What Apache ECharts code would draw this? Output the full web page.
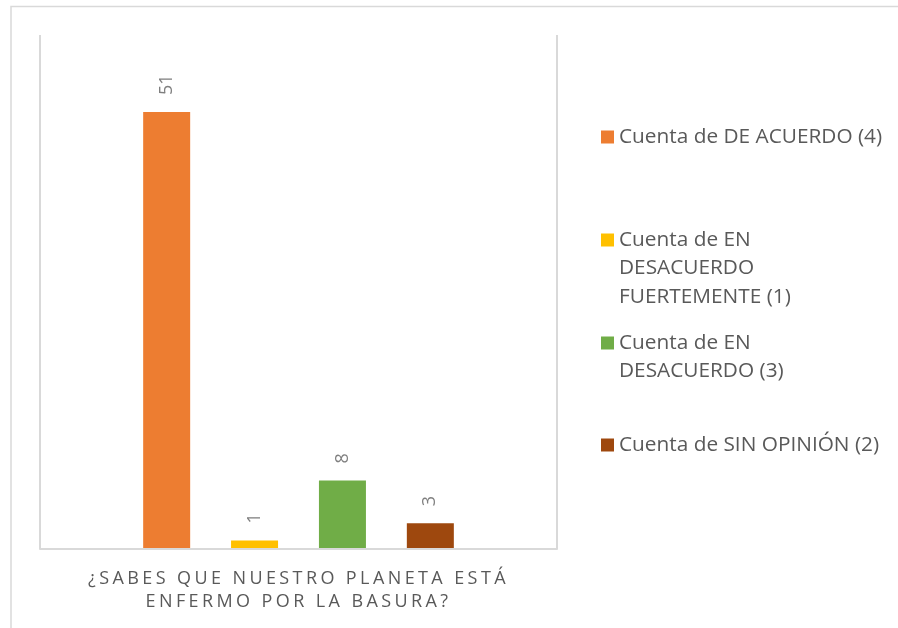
<!DOCTYPE html>
<html>
<head>
<meta charset="utf-8">
<script src="https://cdn.jsdelivr.net/npm/echarts@6/dist/echarts.min.js"></script>
<style>html,body{margin:0;padding:0;background:#fff;}#main{width:898px;height:628px;}</style>
</head>
<body>
<div id="main"></div>
<script>
// ---- data ----
var categories = ['¿SABES QUE NUESTRO PLANETA ESTÁ ENFERMO POR LA BASURA?'];
var seriesNames = [
  'Cuenta de DE ACUERDO (4)',
  'Cuenta de EN DESACUERDO FUERTEMENTE (1)',
  'Cuenta de EN DESACUERDO (3)',
  'Cuenta de SIN OPINIÓN (2)'
];
var valuesDeAcuerdo = [51];
var valuesDesacuerdoFuerte = [1];
var valuesDesacuerdo = [8];
var valuesSinOpinion = [3];
var colors = ['#ED7D31', '#FFC000', '#70AD47', '#9E480E'];

// legend wrapped text (leading blank lines keep the icon on the first line)
var legendLabels = {};
legendLabels[seriesNames[0]] = 'Cuenta de DE ACUERDO (4)';
legendLabels[seriesNames[1]] = '\n\nCuenta de EN\nDESACUERDO\nFUERTEMENTE (1)';
legendLabels[seriesNames[2]] = '\nCuenta de EN\nDESACUERDO (3)';
legendLabels[seriesNames[3]] = 'Cuenta de SIN OPINIÓN (2)';
var legendTops = [122.75, 168.75, 300.25, 430.75];

var FONT = 'Open Sans';
var chart = echarts.init(document.getElementById('main'), null, {renderer: 'canvas', width: 898, height: 628});
// letter spacing for axis text layer
try {
  var layer = chart.getZr().painter.getLayer(1);
  if (layer && layer.ctx) layer.ctx.letterSpacing = '3.4px';
} catch (e) {}

var allValues = [valuesDeAcuerdo, valuesDesacuerdoFuerte, valuesDesacuerdo, valuesSinOpinion];
var series = seriesNames.map(function (n, i) {
  return {
    name: n,
    type: 'bar',
    data: allValues[i],
    barWidth: 47,
    barGap: '87%',
    itemStyle: {color: colors[i]},
    label: {
      show: true,
      position: 'top',
      rotate: 90,
      align: 'left',
      verticalAlign: 'middle',
      distance: 17,
      color: '#7F7F7F',
      fontSize: 18,
      fontFamily: FONT
    }
  };
});

var legends = seriesNames.map(function (n, i) {
  return {
    data: [n],
    left: 601,
    top: legendTops[i],
    orient: 'vertical',
    padding: 0,
    itemWidth: 13,
    itemHeight: 13,
    icon: 'rect',
    selectedMode: false,
    formatter: function (name) { return legendLabels[name]; },
    textStyle: {fontSize: 20.8, color: '#595959', lineHeight: 28.5, fontFamily: FONT}
  };
});

var option = {
  animation: false,
  backgroundColor: '#fff',
  graphic: [{
    type: 'rect', silent: true,
    shape: {x: 11, y: 6.5, width: 1000, height: 1000},
    style: {fill: 'none', stroke: '#D9D9D9', lineWidth: 1.5}
  }],
  grid: {left: 40, right: 341, top: 35, bottom: 79},
  legend: legends,
  xAxis: {
    type: 'category',
    data: categories,
    zlevel: 1,
    axisLine: {show: true, lineStyle: {color: '#D9D9D9', width: 2}},
    axisTick: {show: false},
    splitLine: {show: true, lineStyle: {color: '#D9D9D9', width: 2}},
    axisLabel: {
      color: '#595959', fontSize: 18, fontFamily: FONT, lineHeight: 23, margin: 18,
      formatter: function (v) { return '¿SABES QUE NUESTRO PLANETA ESTÁ\nENFERMO POR LA BASURA?'; }
    }
  },
  yAxis: {
    type: 'value', min: 0, max: 60,
    show: false,
    splitLine: {show: false}
  },
  series: series
};
chart.setOption(option);
</script>
</body>
</html>
